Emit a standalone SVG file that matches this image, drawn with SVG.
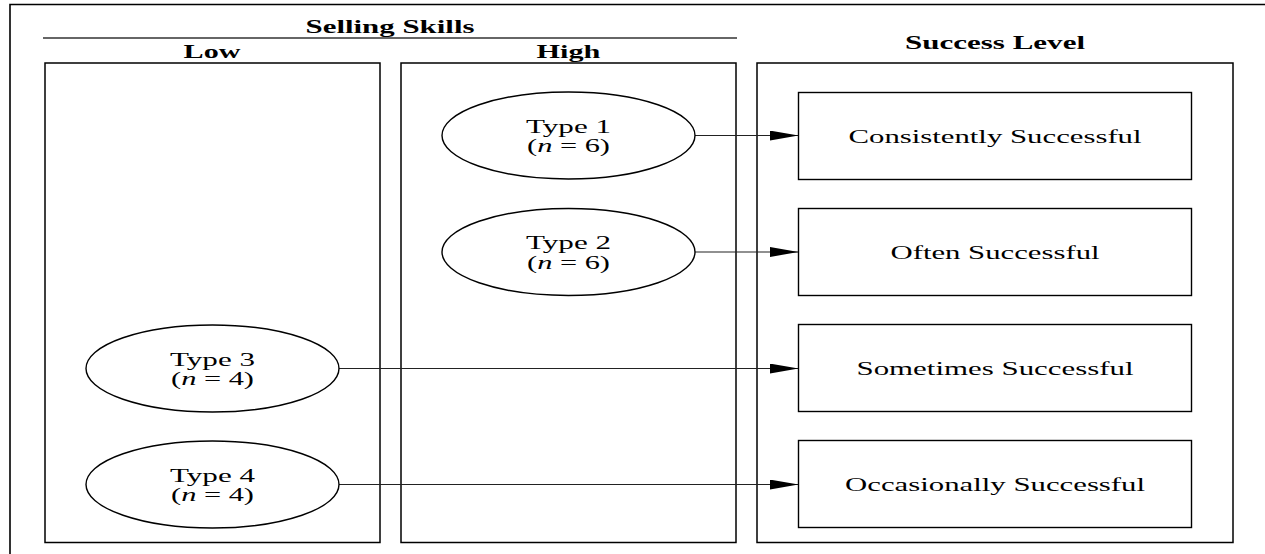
<svg xmlns="http://www.w3.org/2000/svg" width="1265" height="554" viewBox="0 0 1265 554">
  <style>
    .frame { fill: none; stroke: #000; stroke-width: 1.6; }
    .col { fill: #fff; stroke: #000; stroke-width: 1.5; }
    .box { fill: #fff; stroke: #000; stroke-width: 1.4; }
    .oval { fill: #fff; stroke: #000; stroke-width: 1.4; }
    .rule { stroke: #333; stroke-width: 1.6; }
    .edge { fill: none; stroke: #222; stroke-width: 1.2; }
    text { font-family: "Liberation Serif", "Times New Roman", serif; font-size: 18.5px; fill: #000; text-anchor: middle; }
    .head { font-weight: bold; }
    .it { font-style: italic; }
  </style>
  <defs>
    <marker id="arrow" markerUnits="userSpaceOnUse" markerWidth="30" markerHeight="11" refX="29" refY="5" orient="auto">
      <path d="M0,0 L29,5 L0,10 Z" fill="#000"/>
    </marker>
  </defs>

  <!-- outer frame (open to the right and bottom) -->
  <path class="frame" d="M10,554 V4.5 H1265"/>

  <!-- column headers; all lettering is set wide (x1.7) -->
  <g id="headers">
    <text class="head" transform="translate(390,32.5) scale(1.7,1)" textLength="99.4" lengthAdjust="spacingAndGlyphs">Selling Skills</text>
    <line class="rule" x1="43" y1="38" x2="737" y2="38"/>
    <text class="head" transform="translate(212,57.5) scale(1.7,1)" textLength="33.5" lengthAdjust="spacingAndGlyphs">Low</text>
    <text class="head" transform="translate(568.5,57.5) scale(1.7,1)" textLength="37.6" lengthAdjust="spacingAndGlyphs">High</text>
    <text class="head" transform="translate(995,49) scale(1.7,1)" textLength="105.9" lengthAdjust="spacingAndGlyphs">Success Level</text>
  </g>

  <!-- column panels -->
  <g id="col-low"><rect class="col" x="45" y="63" width="335" height="479.5"/></g>
  <g id="col-high"><rect class="col" x="401" y="63" width="335" height="479.5"/></g>
  <g id="col-success"><rect class="col" x="757" y="63" width="476" height="479.5"/></g>

  <!-- connectors -->
  <g id="connectors">
    <line class="edge" x1="695" y1="135.5" x2="798.5" y2="135.5" marker-end="url(#arrow)"/>
    <line class="edge" x1="695" y1="252" x2="798.5" y2="252" marker-end="url(#arrow)"/>
    <line class="edge" x1="339" y1="368.5" x2="798.5" y2="368.5" marker-end="url(#arrow)"/>
    <line class="edge" x1="339" y1="484.5" x2="798.5" y2="484.5" marker-end="url(#arrow)"/>
  </g>

  <!-- seller types -->
  <g id="type1">
    <ellipse class="oval" cx="568.5" cy="135.5" rx="126.5" ry="43.5"/>
    <text transform="translate(568.5,132.5) scale(1.7,1)" textLength="50" lengthAdjust="spacingAndGlyphs">Type 1</text>
    <text transform="translate(568.5,152) scale(1.7,1)" textLength="48.8" lengthAdjust="spacingAndGlyphs">(<tspan class="it">n</tspan> = 6)</text>
  </g>
  <g id="type2">
    <ellipse class="oval" cx="568.5" cy="252" rx="126.5" ry="43.5"/>
    <text transform="translate(568.5,249) scale(1.7,1)" textLength="50" lengthAdjust="spacingAndGlyphs">Type 2</text>
    <text transform="translate(568.5,268.5) scale(1.7,1)" textLength="48.8" lengthAdjust="spacingAndGlyphs">(<tspan class="it">n</tspan> = 6)</text>
  </g>
  <g id="type3">
    <ellipse class="oval" cx="212.5" cy="368.5" rx="126.5" ry="43.5"/>
    <text transform="translate(212.5,365.5) scale(1.7,1)" textLength="50" lengthAdjust="spacingAndGlyphs">Type 3</text>
    <text transform="translate(212.5,385) scale(1.7,1)" textLength="48.8" lengthAdjust="spacingAndGlyphs">(<tspan class="it">n</tspan> = 4)</text>
  </g>
  <g id="type4">
    <ellipse class="oval" cx="212.5" cy="484.5" rx="126.5" ry="43.5"/>
    <text transform="translate(212.5,481.5) scale(1.7,1)" textLength="50" lengthAdjust="spacingAndGlyphs">Type 4</text>
    <text transform="translate(212.5,501) scale(1.7,1)" textLength="48.8" lengthAdjust="spacingAndGlyphs">(<tspan class="it">n</tspan> = 4)</text>
  </g>

  <!-- success levels -->
  <g id="level-consistently">
    <rect class="box" x="798.5" y="92.5" width="393" height="87"/>
    <text transform="translate(995,142.5) scale(1.7,1)" textLength="172.4" lengthAdjust="spacingAndGlyphs">Consistently Successful</text>
  </g>
  <g id="level-often">
    <rect class="box" x="798.5" y="208.5" width="393" height="87"/>
    <text transform="translate(995,258.5) scale(1.7,1)" textLength="123" lengthAdjust="spacingAndGlyphs">Often Successful</text>
  </g>
  <g id="level-sometimes">
    <rect class="box" x="798.5" y="324.5" width="393" height="87"/>
    <text transform="translate(995,374.5) scale(1.7,1)" textLength="163" lengthAdjust="spacingAndGlyphs">Sometimes Successful</text>
  </g>
  <g id="level-occasionally">
    <rect class="box" x="798.5" y="440.5" width="393" height="87"/>
    <text transform="translate(995,490.5) scale(1.7,1)" textLength="176.5" lengthAdjust="spacingAndGlyphs">Occasionally Successful</text>
  </g>
</svg>
